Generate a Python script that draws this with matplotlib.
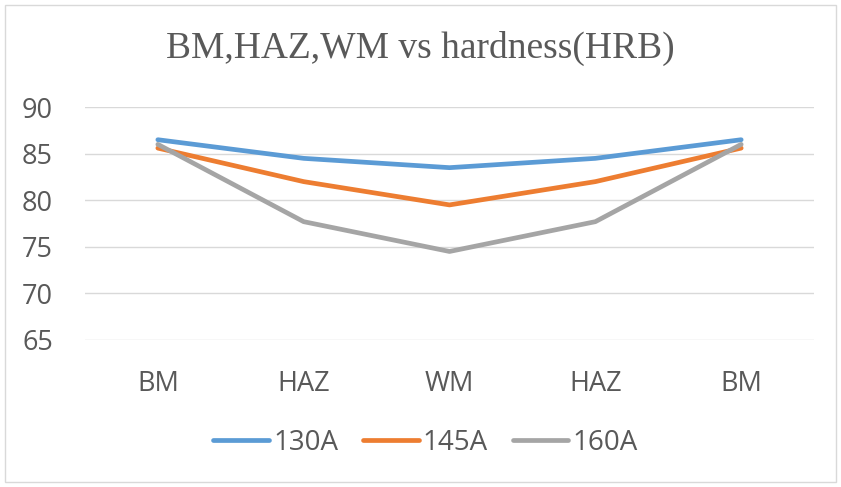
import numpy as np
import matplotlib.pyplot as plt
from matplotlib.patches import Rectangle

# data
zones = ["BM", "HAZ", "WM", "HAZ", "BM"]
a130 = [86.5, 84.5, 83.5, 84.5, 86.5]
a145 = [85.6, 82.0, 79.5, 82.0, 85.6]
a160 = [86.0, 77.7, 74.5, 77.7, 86.0]
series = ["130A", "145A", "160A"]

grey = "#595959"
fig = plt.figure(figsize=(8.41, 4.87), dpi=100)
fig.patches.append(Rectangle((0.006, 0.01), 0.988, 0.98, transform=fig.transFigure,
                             fill=False, edgecolor="#d9d9d9", lw=1))
ax = fig.add_axes([0.101, 0.302, 0.867, 0.478])

x = np.arange(len(zones))
ax.plot(x, a130, color="#5B9BD5", lw=3.4, label=series[0], solid_capstyle="round")
ax.plot(x, a145, color="#ED7D31", lw=3.4, label=series[1], solid_capstyle="round")
ax.plot(x, a160, color="#A5A5A5", lw=3.4, label=series[2], solid_capstyle="round")

ax.set_xlim(-0.5, 4.5)
ax.set_ylim(65, 90)
ax.set_yticks(range(65, 91, 5))
ax.set_xticks(x)
ax.set_xticklabels(zones)
ax.grid(axis="y", color="#d9d9d9", lw=1)
ax.set_axisbelow(True)
for s in ax.spines.values():
    s.set_visible(False)
ax.tick_params(length=0, labelsize=19.5, labelcolor=grey)
ax.tick_params(axis="x", pad=22)
ax.tick_params(axis="y", pad=23)
for lab in ax.get_xticklabels() + ax.get_yticklabels():
    lab.set_family("Open Sans")

fig.text(0.5, 0.9, "BM,HAZ,WM vs hardness(HRB)", ha="center", va="center",
         fontsize=27, color=grey, family="Liberation Serif")

fig.legend(loc="center", bbox_to_anchor=(0.506, 0.09), ncol=3, frameon=False,
           prop={"family": "Open Sans", "size": 20}, labelcolor=grey,
           handlelength=2.0, handletextpad=0.15, columnspacing=0.9)

plt.savefig("out.png")
